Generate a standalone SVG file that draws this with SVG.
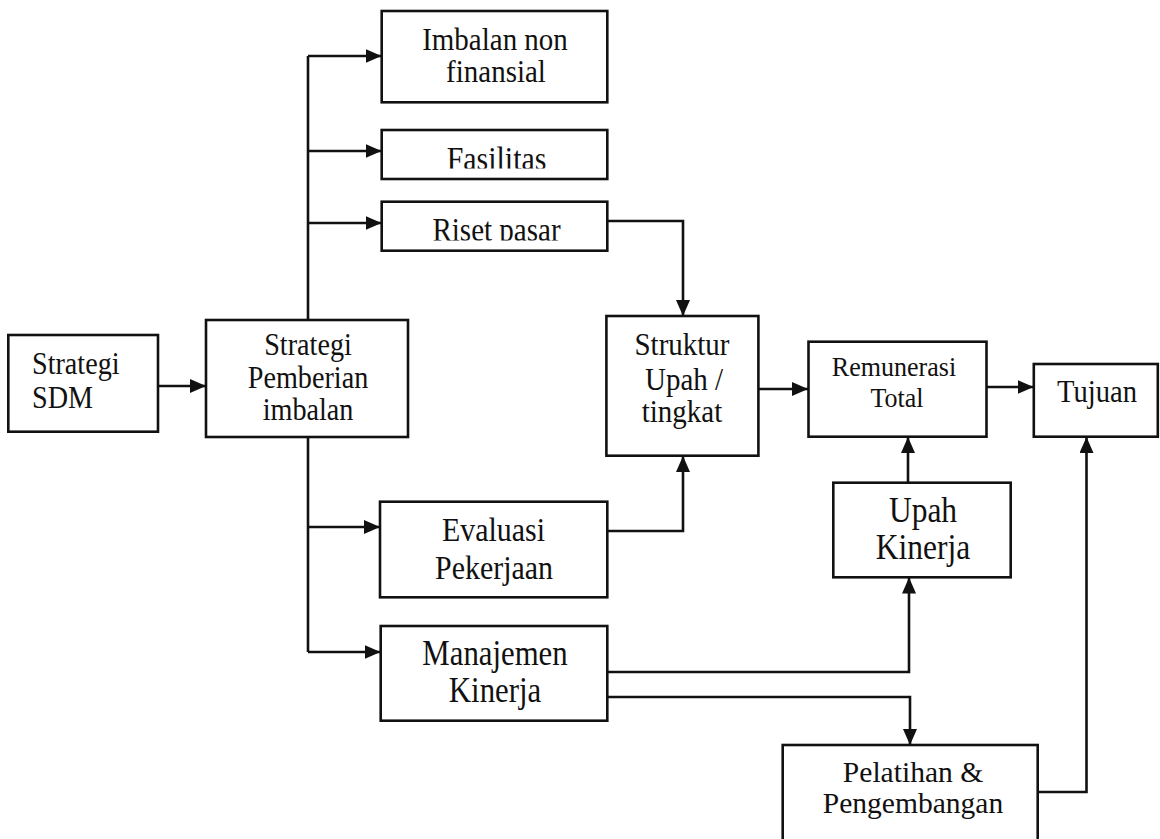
<svg xmlns="http://www.w3.org/2000/svg" width="1160" height="839" viewBox="0 0 1160 839">
<defs>
<style>
.box{fill:#fff;stroke:#111;stroke-width:2.6}
.ln{fill:none;stroke:#111;stroke-width:2.6}
text{font-family:"Liberation Serif","Times New Roman",serif;fill:#111;text-anchor:middle}
</style>
<marker id="ah" markerUnits="userSpaceOnUse" markerWidth="17" markerHeight="14" refX="16" refY="7" orient="auto">
<path d="M0,0 L16,7 L0,14 z" fill="#111"/>
</marker>
<clipPath id="cFas"><rect x="380" y="130" width="230" height="38.5"/></clipPath>
<clipPath id="cRis"><rect x="380" y="201" width="230" height="39.5"/></clipPath>
</defs>
<rect width="1160" height="839" fill="#fff"/>
<g id="connectors">
<path class="ln" d="M158,386 H206" marker-end="url(#ah)"/>
<path class="ln" d="M308,320 V56"/>
<path class="ln" d="M308,437 V652"/>
<path class="ln" d="M308,56 H381.5" marker-end="url(#ah)"/>
<path class="ln" d="M308,151 H381.5" marker-end="url(#ah)"/>
<path class="ln" d="M308,223 H381.5" marker-end="url(#ah)"/>
<path class="ln" d="M308,527 H380" marker-end="url(#ah)"/>
<path class="ln" d="M308,652 H380.5" marker-end="url(#ah)"/>
<path class="ln" d="M607.3,221 H683 V316" marker-end="url(#ah)"/>
<path class="ln" d="M607.3,531 H683 V456" marker-end="url(#ah)"/>
<path class="ln" d="M758.4,389 H808" marker-end="url(#ah)"/>
<path class="ln" d="M986.4,387 H1033.5" marker-end="url(#ah)"/>
<path class="ln" d="M908,482.7 V437" marker-end="url(#ah)"/>
<path class="ln" d="M607.3,672 H909 V577.5" marker-end="url(#ah)"/>
<path class="ln" d="M607.3,697 H910 V745" marker-end="url(#ah)"/>
<path class="ln" d="M1037.7,792 H1086.5 V437" marker-end="url(#ah)"/>
</g>
<g id="n-sdm">
<rect class="box" x="8.3" y="335" width="149.7" height="96.7"/>
<text transform="translate(32,374) scale(0.88,1)" font-size="32" style="text-anchor:start">Strategi</text>
<text transform="translate(32,408) scale(0.88,1)" font-size="32" style="text-anchor:start">SDM</text>
</g>
<g id="n-pemberian">
<rect class="box" x="206" y="320" width="202" height="117"/>
<text transform="translate(308,355) scale(0.9,1)" font-size="31.3">Strategi</text>
<text transform="translate(308,387.5) scale(0.9,1)" font-size="31.3">Pemberian</text>
<text transform="translate(308,420) scale(0.9,1)" font-size="31.3">imbalan</text>
</g>
<g id="n-imbalan">
<rect class="box" x="381.7" y="11" width="225.6" height="91.3"/>
<text transform="translate(495,49.5) scale(0.935,1)" font-size="31">Imbalan non</text>
<text transform="translate(496,82) scale(0.935,1)" font-size="31">finansial</text>
</g>
<g id="n-fasilitas">
<rect class="box" x="381.7" y="130" width="225.6" height="49"/>
<g clip-path="url(#cFas)"><text transform="translate(496.5,169.5) scale(0.88,1)" font-size="34">Fasilitas</text></g>
</g>
<g id="n-riset">
<rect class="box" x="381.7" y="201.7" width="225.6" height="49"/>
<g clip-path="url(#cRis)"><text transform="translate(496.5,240.5) scale(0.88,1)" font-size="33">Riset pasar</text></g>
</g>
<g id="n-evaluasi">
<rect class="box" x="380" y="501.7" width="227.3" height="95.6"/>
<text transform="translate(493.5,541) scale(0.88,1)" font-size="34">Evaluasi</text>
<text transform="translate(494,578.5) scale(0.88,1)" font-size="34">Pekerjaan</text>
</g>
<g id="n-manajemen">
<rect class="box" x="380.7" y="626" width="226.6" height="94.7"/>
<text transform="translate(495,665) scale(0.88,1)" font-size="35">Manajemen</text>
<text transform="translate(495,702) scale(0.88,1)" font-size="35">Kinerja</text>
</g>
<g id="n-struktur">
<rect class="box" x="606.4" y="316" width="152" height="139.7"/>
<text transform="translate(682,355) scale(0.935,1)" font-size="31">Struktur</text>
<text transform="translate(684,389.5) scale(0.935,1)" font-size="31">Upah /</text>
<text transform="translate(682,422) scale(0.935,1)" font-size="31">tingkat</text>
</g>
<g id="n-remunerasi">
<rect class="box" x="808.5" y="341.7" width="178" height="95"/>
<text transform="translate(894,376) scale(0.93,1)" font-size="28">Remunerasi</text>
<text transform="translate(897,407) scale(0.93,1)" font-size="28">Total</text>
</g>
<g id="n-tujuan">
<rect class="box" x="1033.8" y="364" width="124" height="72.7"/>
<text transform="translate(1097,402) scale(0.88,1)" font-size="32.5">Tujuan</text>
</g>
<g id="n-upah">
<rect class="box" x="833.3" y="482.7" width="177.4" height="94.6"/>
<text transform="translate(923,522) scale(0.9,1)" font-size="35">Upah</text>
<text transform="translate(923,558.5) scale(0.9,1)" font-size="35">Kinerja</text>
</g>
<g id="n-pelatihan">
<rect class="box" x="782.7" y="745" width="255" height="110"/>
<text transform="translate(913,782) scale(0.985,1)" font-size="30">Pelatihan &amp;</text>
<text transform="translate(913,813) scale(0.985,1)" font-size="30">Pengembangan</text>
</g>
</svg>
